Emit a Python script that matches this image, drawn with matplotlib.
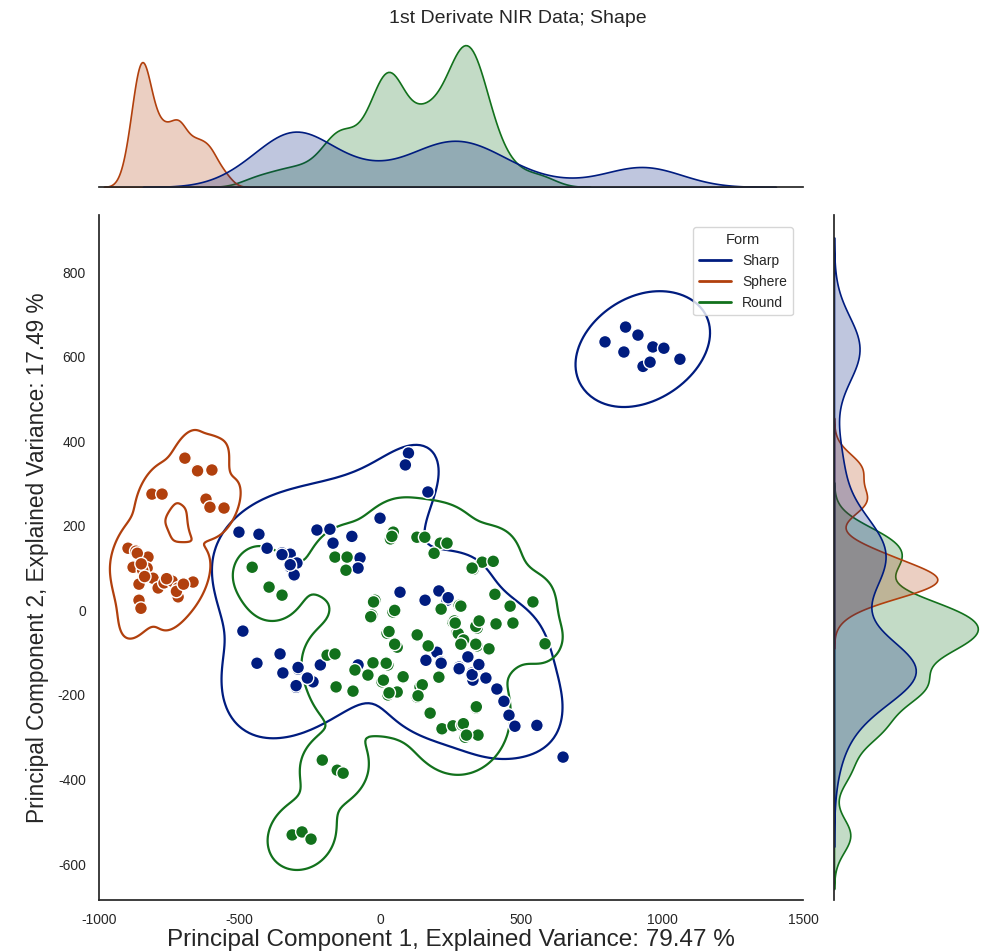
import numpy as np
import pandas as pd
import matplotlib
matplotlib.use("Agg")
import matplotlib.pyplot as plt
from matplotlib.lines import Line2D
import seaborn as sns

sns.set_theme(style="white")
plt.rcParams['font.family'] = ['Liberation Sans', 'DejaVu Sans']
plt.rcParams['axes.unicode_minus'] = False

# PCA scores (PC1, PC2) per shape class; the last block of each class holds
# repeat scans lying almost on top of earlier points
sharp_pc1 = [797, 870, 914, 864, 967, 1006, 932, 957, 1063,
             99, 88, 168, -2, -503, -432, -226, -180, -169, -102, -403, -350,
             -321, -297, -321, -307, -73, -80, 69, -489, -439, -357, -347, -293,
             -300, -257, -240, -214, -80, 158, 207, 236, 161, 200, 215, 279, 310,
             349, 325, 328, 374, 413, 438, 456, 477, 555, 648,
             215, 279, 325, 349, 240, -293, -300, -321, -350, -260]
sharp_pc2 = [635, 670, 651, 611, 623, 620, 577, 587, 594,
             372, 344, 280, 218, 185, 180, 190, 192, 159, 175, 147, 136,
             133, 112, 103, 84, 124, 100, 43, -49, -125, -103, -148, -139,
             -182, -160, -169, -129, -129, 24, 46, 24, -118, -99, -122, -134, -110,
             -131, -148, -165, -160, -186, -215, -248, -274, -272, -347,
             -125, -138, -152, -128, 30, -135, -178, 108, 132, -160]

sphere_pc1 = [-695, -652, -599, -812, -776, -620, -606, -556, -897, -869, -826, -879,
              -829, -840, -808, -858, -790, -769, -740, -719, -719, -666, -858, -851,
              -845, -864, -760, -725, -700, -650, -850, -838]
sphere_pc2 = [360, 332, 332, 275, 275, 263, 244, 242, 147, 140, 126, 102,
              100, 84, 76, 62, 53, 65, 69, 53, 32, 67, 24, 5,
              95, 135, 75, 45, 62, 330, 110, 80]

round_pc1 = [45, 35, -162, -119, -123, -456, -396, -350, -20, 44, -31, 23, 59, 130,
             -190, -162, -91, -27, 26, -45, 5, 80, -158, -98, 26, 59, 140, 130,
             129, 157, 212, 236, 190, 329, 361, 400, 406, 460, 541, 215, 279, 257,
             343, 410, 470, 169, 272, 290, 346, 343, 385, 584, 148, 133, 207, 176,
             339, 218, 257, 289, 300, 346, -207, -154, -133, -314, -279, -247,
             40, 30, 50, 20, 10, 30, -25, -35, 50,
             285, 262, 338, 276, 295, 338, 350, 294, 305, 340, 325, 265, 285]
round_pc2 = [185, 169, 126, 126, 95, 102, 55, 36, 24, -4, -11, -54, -87, -58,
             -106, -103, -141, -124, -129, -153, -169, -157, -181, -191, -200, -193, -181, -205,
             173, 173, 159, 159, 135, 97, 114, 116, 38, 10, 20, 3, 12, -28,
             -42, -32, -30, -84, -51, -75, -28, -84, -91, -79, -176, -202, -158, -243,
             -231, -280, -273, -271, -300, -295, -354, -378, -385, -531, -524, -541,
             175, -50, -80, -125, -165, -195, 20, -15, 0,
             10, -25, -38, -55, -70, -80, -25, -268, -295, -228, 100, -30, -80]

forms = ["Sharp", "Sphere", "Round"]
palette = dict(zip(forms, sns.color_palette("dark", 3)))

df = pd.DataFrame({
    "pc1": sharp_pc1 + sphere_pc1 + round_pc1,
    "pc2": sharp_pc2 + sphere_pc2 + round_pc2,
    "Form": (["Sharp"] * len(sharp_pc1) + ["Sphere"] * len(sphere_pc1)
             + ["Round"] * len(round_pc1)),
})

fig = plt.figure(figsize=(9.85, 9.51), dpi=100)
ax = fig.add_axes([0.1005, 0.0536, 0.7147, 0.7203])
ax_mx = fig.add_axes([0.1005, 0.8034, 0.7147, 0.1566], sharex=ax)
ax_my = fig.add_axes([0.8467, 0.0536, 0.1533, 0.7203], sharey=ax)

# joint density contours
sns.kdeplot(data=df, x="pc1", y="pc2", hue="Form", hue_order=forms, palette=palette,
            levels=1, thresh=0.05, bw_adjust=0.65, linewidths=1.6, ax=ax, legend=False)
# scores
sns.scatterplot(data=df, x="pc1", y="pc2", hue="Form", hue_order=forms, palette=palette,
                s=85, edgecolor="white", linewidth=1.0, ax=ax, legend=False, zorder=3)

# marginal densities
sns.kdeplot(data=df, x="pc1", hue="Form", hue_order=forms, palette=palette, fill=True,
            bw_adjust=0.6, linewidth=1.2, ax=ax_mx, legend=False)
sns.kdeplot(data=df, y="pc2", hue="Form", hue_order=forms, palette=palette, fill=True,
            bw_adjust=0.6, linewidth=1.2, ax=ax_my, legend=False)

ax.set_xlim(-1000, 1500)
ax.set_ylim(-685, 935)
ax.set_xticks([-1000, -500, 0, 500, 1000, 1500])
ax.set_yticks([-600, -400, -200, 0, 200, 400, 600, 800])
ax.tick_params(labelsize=10)
ax.set_xlabel("Principal Component 1, Explained Variance: 79.47 %", fontsize=17.5, labelpad=1)
ax.set_ylabel("Principal Component 2, Explained Variance: 17.49 %", fontsize=16.3, labelpad=6)
for s in ["top", "right"]:
    ax.spines[s].set_visible(False)

for a in (ax_mx, ax_my):
    a.set_xlabel("")
    a.set_ylabel("")
    a.tick_params(labelbottom=False, labelleft=False, bottom=False, left=False)
for s in ["top", "right", "left"]:
    ax_mx.spines[s].set_visible(False)
for s in ["top", "right", "bottom"]:
    ax_my.spines[s].set_visible(False)
ax_mx.set_ylim(bottom=0)
ax_my.set_xlim(left=0)

handles = [Line2D([0], [0], color=palette[f], lw=2) for f in forms]
ax.legend(handles, forms, title="Form", loc="upper right", fontsize=10,
          title_fontsize=10.5, handlelength=2.3, bbox_to_anchor=(0.995, 0.992))

fig.suptitle("1st Derivate NIR Data; Shape", x=0.526, y=0.989, fontsize=14)

fig.savefig("out.png", dpi=100)
